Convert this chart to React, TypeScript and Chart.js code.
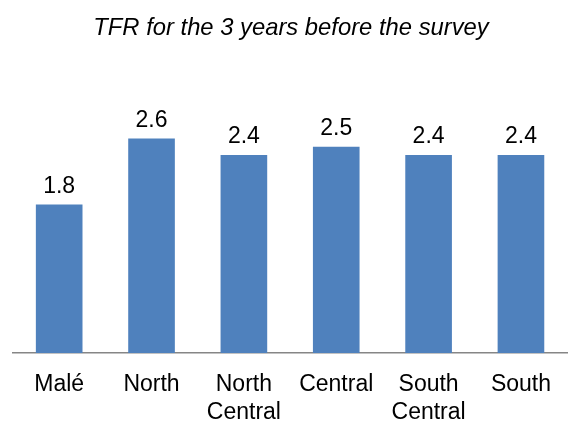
import React, { useEffect, useRef } from "react";
import { Chart, registerables } from "chart.js";

Chart.register(...registerables);

const categories: (string | string[])[] = ["Malé", "North", ["North", "Central"], "Central", ["South", "Central"], "South"];
const tfrValues: number[] = [1.8, 2.6, 2.4, 2.5, 2.4, 2.4];
const titleText = "TFR for the 3 years before the survey";

const FONT = "'Liberation Sans', Arial, sans-serif";

const valueLabels = {
  id: "valueLabels",
  afterDatasetsDraw(chart: any) {
    const ctx = chart.ctx;
    const meta = chart.getDatasetMeta(0);
    ctx.save();
    ctx.font = `23px ${FONT}`;
    ctx.fillStyle = "#000";
    ctx.textAlign = "center";
    ctx.textBaseline = "middle";
    meta.data.forEach((bar: any, i: number) => {
      ctx.fillText(tfrValues[i].toFixed(1), bar.x, bar.y - 18);
    });
    ctx.restore();
  },
};

export default function App() {
  const ref = useRef<HTMLCanvasElement>(null);
  useEffect(() => {
    document.body.style.margin = "0";
    const chart = new Chart(ref.current!, {
      type: "bar",
      data: {
        labels: categories,
        datasets: [
          {
            data: tfrValues,
            backgroundColor: "#4F81BD",
            barPercentage: 0.505,
            categoryPercentage: 1,
          },
        ],
      },
      options: {
        animation: false,
        responsive: false,
        maintainAspectRatio: false,
        layout: { padding: { left: 13, right: 0, top: 0, bottom: 0 } },
        plugins: {
          legend: { display: false },
          tooltip: { enabled: false },
          title: {
            display: true,
            text: titleText,
            color: "#000",
            font: { family: FONT, size: 23.8, style: "italic", weight: "normal", lineHeight: 1.2 },
            padding: { top: 14, bottom: 63 },
          },
        },
        scales: {
          x: {
            grid: { display: false, drawTicks: false },
            border: { display: true, color: "#868686", width: 1.5 },
            ticks: {
              color: "#000",
              font: { family: FONT, size: 23, lineHeight: 1.2 },
              padding: 18,
              maxRotation: 0,
              autoSkip: false,
            },
            afterFit: (s: any) => {
              s.height = 68;
            },
          },
          y: {
            display: false,
            min: 0,
            max: 3,
          },
        },
      },
      plugins: [valueLabels],
    });
    return () => chart.destroy();
  }, []);
  return (
    <div style={{ width: 569, height: 421 }}>
      <canvas ref={ref} width={569} height={421} style={{ width: 569, height: 421, display: "block" }} />
    </div>
  );
}
